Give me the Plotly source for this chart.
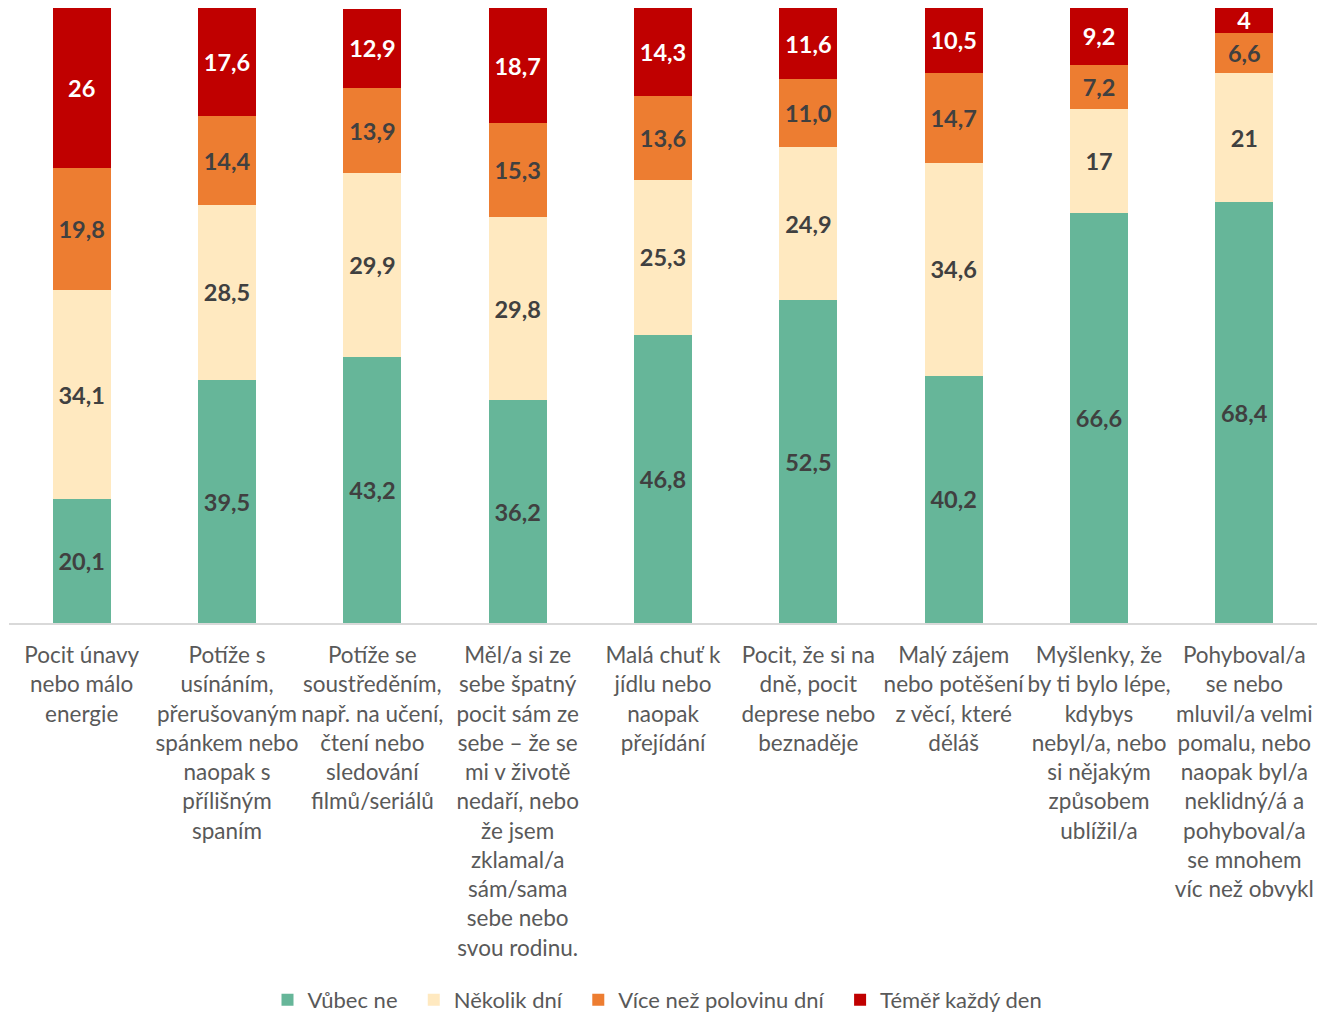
import plotly.graph_objects as go

categories = [
    "Pocit únavy<br>nebo málo<br>energie",
    "Potíže s<br>usínáním,<br>přerušovaným<br>spánkem nebo<br>naopak s<br>přílišným<br>spaním",
    "Potíže se<br>soustředěním,<br>např. na učení,<br>čtení nebo<br>sledování<br>filmů/seriálů",
    "Měl/a si ze<br>sebe špatný<br>pocit sám ze<br>sebe – že se<br>mi v životě<br>nedaří, nebo<br>že jsem<br>zklamal/a<br>sám/sama<br>sebe nebo<br>svou rodinu.",
    "Malá chuť k<br>jídlu nebo<br>naopak<br>přejídání",
    "Pocit, že si na<br>dně, pocit<br>deprese nebo<br>beznaděje",
    "Malý zájem<br>nebo potěšení<br>z věcí, které<br>děláš",
    "Myšlenky, že<br>by ti bylo lépe,<br>kdybys<br>nebyl/a, nebo<br>si nějakým<br>způsobem<br>ublížil/a",
    "Pohyboval/a<br>se nebo<br>mluvil/a velmi<br>pomalu, nebo<br>naopak byl/a<br>neklidný/á a<br>pohyboval/a<br>se mnohem<br>víc než obvykl",
]

# values as printed on the chart (Czech decimal comma)
vubec_ne = ["20,1", "39,5", "43,2", "36,2", "46,8", "52,5", "40,2", "66,6", "68,4"]
nekolik_dni = ["34,1", "28,5", "29,9", "29,8", "25,3", "24,9", "34,6", "17", "21"]
vice_nez_polovinu = ["19,8", "14,4", "13,9", "15,3", "13,6", "11,0", "14,7", "7,2", "6,6"]
temer_kazdy_den = ["26", "17,6", "12,9", "18,7", "14,3", "11,6", "10,5", "9,2", "4"]

series = [
    ("Vůbec ne", vubec_ne, "#66B699", "#404040"),
    ("Několik dní", nekolik_dni, "#FFE9C0", "#404040"),
    ("Více než polovinu dní", vice_nez_polovinu, "#ED7D31", "#404040"),
    ("Téměř každý den", temer_kazdy_den, "#C00000", "#FFFFFF"),
]

x_idx = list(range(len(categories)))
pad = "\u00a0" * 2  # extra room between legend entries

fig = go.Figure()
for name, vals, color, txt_color in series:
    fig.add_trace(
        go.Bar(
            x=x_idx,
            y=[float(v.replace(",", ".")) for v in vals],
            name=name + pad,
            text=vals,
            texttemplate="%{text}",
            textposition="inside",
            insidetextanchor="middle",
            textangle=0,
            constraintext="none",
            textfont=dict(family="Lato", size=23.5, color=txt_color, weight="bold"),
            marker=dict(color=color, line=dict(width=0)),
            hoverinfo="skip",
        )
    )

# page body adds an 8px offset, margins below account for it
fig.update_layout(
    barmode="stack",
    bargap=0.6,
    width=1332,
    height=1013,
    margin=dict(l=1, r=23, t=0, b=391),
    plot_bgcolor="white",
    paper_bgcolor="white",
    font=dict(family="Lato", color="#595959"),
    showlegend=True,
    legend=dict(
        orientation="h",
        x=0.5,
        xanchor="center",
        y=-0.614,
        yanchor="middle",
        font=dict(size=22, color="#595959"),
        traceorder="normal",
        itemwidth=30,
    ),
)
fig.update_xaxes(
    tickmode="array",
    tickvals=x_idx,
    ticktext=categories,
    tickfont=dict(size=22.5, color="#595959"),
    showline=True,
    linecolor="#D9D9D9",
    linewidth=2,
    ticks="",
    showgrid=False,
    range=[-0.5, len(categories) - 0.5],
    ticklabelstandoff=11,
)
fig.update_yaxes(visible=False, range=[0, 100], showgrid=False)

fig.write_html("out.html")
